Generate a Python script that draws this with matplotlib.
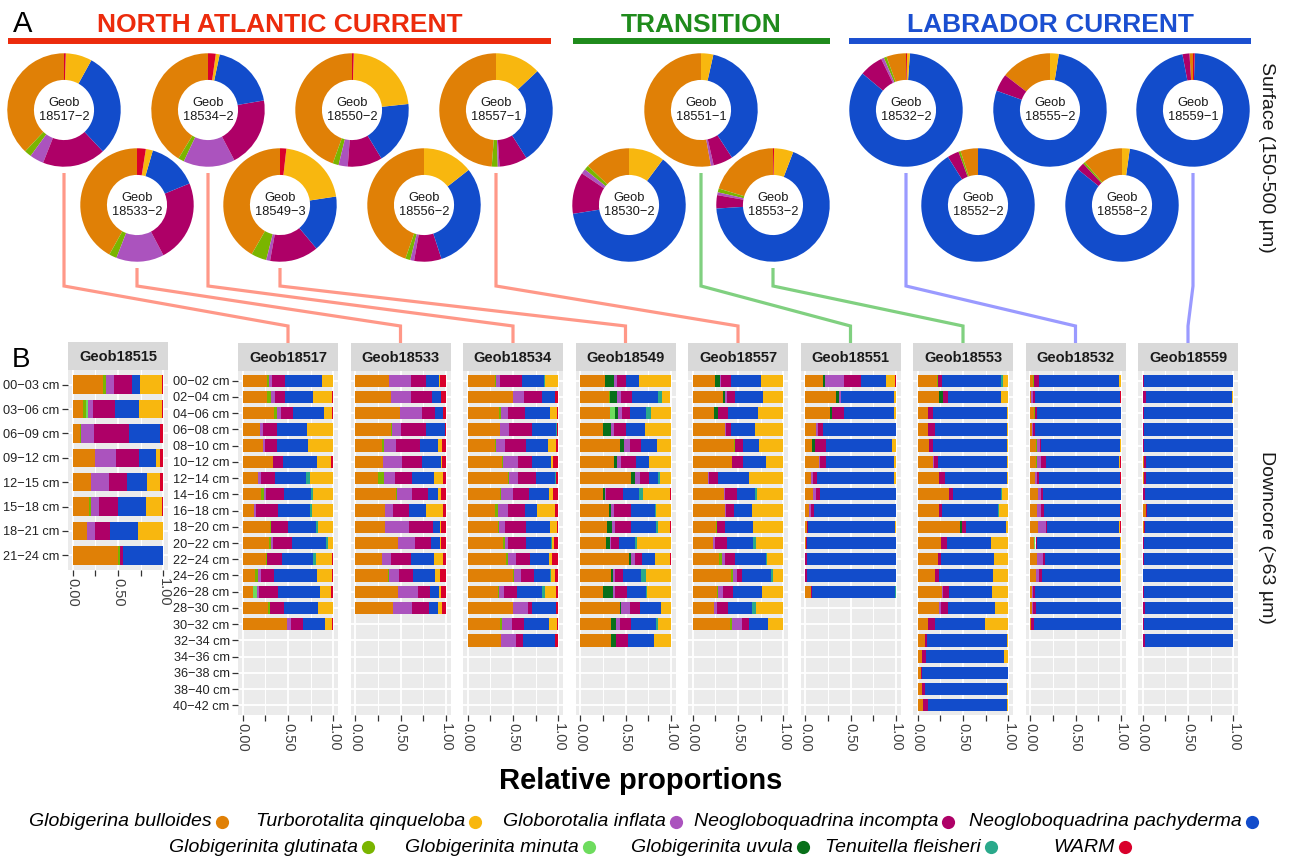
import numpy as np
import matplotlib
matplotlib.use("Agg")
import matplotlib.pyplot as plt

plt.rcParams["font.family"] = ["Liberation Sans", "DejaVu Sans"]

W, H, DPI = 1289, 858, 100

# ---------------------------------------------------------------- data
species = [
    "Globigerina bulloides", "Globigerinita glutinata", "Globigerinita minuta",
    "Globigerinita uvula", "Globorotalia inflata", "Neogloboquadrina incompta",
    "Neogloboquadrina pachyderma", "Tenuitella fleisheri",
    "Turborotalita qinqueloba", "WARM",
]
species_colors = [
    "#E08006", "#7AB500", "#6EDC5E", "#08701A", "#AB53BE",
    "#AE0067", "#124CCB", "#2AA98B", "#F8B70F", "#D9002B",
]

# Surface samples (150-500 um), % per species (order as `species`)
surface_stations = [
    "18517-2", "18534-2", "18550-2", "18557-1", "18533-2", "18549-3", "18556-2",
    "18551-1", "18530-2", "18553-2",
    "18532-2", "18555-2", "18559-1", "18552-2", "18558-2",
]
surface_pct = [
    [38.0, 2.0, 0, 0, 4.0, 18.0, 30.0, 0, 7.5, 0.5],
    [41.3, 1.7, 0, 0, 14.7, 20.0, 19.0, 0, 1.1, 2.2],
    [44.5, 1.7, 0, 0, 2.6, 9.9, 18.0, 0, 22.8, 0.5],
    [48.8, 1.7, 0, 0, 0.5, 8.0, 28.0, 0, 13.0, 0],
    [41.9, 2.2, 0, 0, 13.6, 23.5, 14.3, 0, 2.0, 2.5],
    [41.7, 4.4, 0, 0, 1.1, 13.9, 16.3, 0, 20.8, 1.8],
    [44.7, 1.4, 0, 0, 1.1, 7.8, 30.6, 0, 14.4, 0],
    [52.8, 0, 0, 0, 0.8, 5.6, 37.3, 0, 3.5, 0],
    [12.9, 1.3, 0, 0, 1.4, 11.9, 62.3, 0, 10.2, 0],
    [20.3, 1.1, 0, 0, 0.8, 3.8, 68.2, 0, 5.5, 0.3],
    [5.6, 0.8, 0, 0, 0.8, 6.7, 85.0, 0, 0.8, 0.3],
    [14.5, 0, 0, 0, 0, 5.0, 78.0, 0, 2.5, 0],
    [1.0, 0, 0, 0, 0, 2.0, 96.5, 0, 0, 0.5],
    [5.0, 0.6, 0, 0, 0, 3.3, 91.1, 0, 0, 0],
    [11.4, 0.6, 0, 0, 0, 2.2, 83.6, 0, 2.2, 0],
]

# Downcore samples (>63 um), one row per depth interval, % per species
geob18515 = [
    [33, 3.5, 0, 0, 9.5, 19, 9.5, 0, 24, 1.5],
    [11, 4, 1.5, 0, 6.5, 24, 26.5, 0, 24.5, 2],
    [8.5, 0.5, 0, 0, 15, 38, 34, 0, 0, 4],
    [24.5, 0.5, 0, 0, 23, 25, 18.5, 0, 4.5, 4],
    [20, 0.5, 0, 0, 19.5, 20, 22, 0, 14, 4],
    [18.5, 1.5, 0, 0, 9, 21, 30.5, 0, 17.5, 2],
    [16, 0, 0, 0, 9, 16.5, 30, 0, 28, 0.5],
    [50.5, 1.5, 0, 0, 0, 3.5, 43.5, 0, 0, 1],
]
geob18517 = [
    [27, 2.5, 0, 0, 3, 14.5, 40, 0, 13, 0],
    [26.5, 5, 0, 0, 4, 11, 30.5, 0, 21.5, 1.5],
    [34.5, 3.5, 0, 0, 4.5, 13.5, 33.5, 0, 8.5, 2],
    [19, 0, 0, 0, 3.5, 15.5, 33, 0, 29, 0],
    [22, 0, 0, 0, 2.5, 13, 34, 0, 28.5, 0],
    [33, 1, 0, 0, 0, 10.5, 37.5, 0, 15, 3],
    [17.5, 0, 0, 0, 3, 15.5, 34, 4.5, 24.5, 1],
    [20, 3.5, 0, 0, 2, 20, 30, 2, 22.5, 0],
    [13, 0, 0, 0, 2, 24, 35, 2.5, 23.5, 0],
    [30, 1.5, 0, 0, 0, 19, 30, 2, 17.5, 0],
    [29.5, 1.5, 0, 0, 3, 20, 38, 2, 6, 0],
    [25.5, 1.5, 0, 0, 0, 16, 35, 3, 17, 2],
    [14, 3, 0, 0, 3, 15, 46.5, 0, 17, 1.5],
    [11.5, 0, 4.5, 0, 2, 21.5, 45.5, 0, 12, 3],
    [28.5, 1.5, 0, 0, 0, 15.5, 37, 0, 16.5, 1],
    [49, 0, 0, 0, 4.5, 13.5, 23.5, 0, 7.5, 2],
]
geob18533 = [
    [37.5, 0, 0, 0, 24, 16.5, 14.5, 0, 1, 6.5],
    [39.5, 0, 0, 0, 21.5, 24, 9, 0, 1, 5],
    [49.5, 0, 0, 0, 24.5, 14, 9, 0, 0, 3],
    [39.5, 1, 0, 0, 10.5, 27.5, 20, 0, 0, 1.5],
    [29.5, 2.5, 0, 0, 13, 26.5, 20, 0, 4.5, 4],
    [30.5, 0.5, 0, 0, 21, 21.5, 21.5, 0, 1, 4],
    [25.5, 6, 0, 0, 12.5, 19, 24, 0, 9.5, 3.5],
    [45, 1, 0, 0, 16.5, 18, 11, 0, 2.5, 6],
    [33, 0, 0, 0, 9, 17, 19.5, 0, 18.5, 3],
    [33, 0, 0, 0, 26.5, 26.5, 7.5, 0, 1.5, 5],
    [47.5, 0, 0, 0, 18.5, 17.5, 10, 0, 1.5, 5],
    [29.5, 0, 0, 0, 10.5, 21.5, 25.5, 0, 10, 3],
    [36, 1, 0, 0, 11.5, 15.5, 24, 0, 5.5, 6.5],
    [47.5, 0, 0, 0, 21.5, 13.5, 10, 0, 1.5, 6],
    [42, 0, 0, 0, 20.5, 18.5, 10.5, 0, 4.5, 4],
]
geob18534 = [
    [30, 1, 0, 0, 5, 24, 24.5, 1, 13.5, 1],
    [50, 0, 0, 0, 12, 19.5, 15, 0, 0, 3.5],
    [35, 2, 0, 0, 7, 19, 27.5, 0, 7.5, 2],
    [36, 0, 0, 0, 10, 25, 26, 1.5, 0, 1.5],
    [30, 1, 0, 0, 10, 23.5, 24, 0, 8.5, 3],
    [37.5, 1, 0, 0, 17.5, 14.5, 21, 0, 3, 5.5],
    [44, 2, 0, 0, 9.5, 20, 21, 1, 0, 2.5],
    [35.5, 1, 0, 0, 13.5, 18, 22, 0, 4, 6],
    [30.5, 2.5, 0, 0, 11.5, 19, 13, 0, 20, 3.5],
    [33, 2, 0, 0, 6.5, 22.5, 26.5, 0, 7.5, 2],
    [39, 2, 0, 0, 3, 20, 27.5, 1, 3, 4.5],
    [42, 2, 0, 0, 9.5, 15.5, 21, 0, 2.5, 7.5],
    [49.5, 2, 0, 0, 7.5, 14.5, 17, 1, 5, 3.5],
    [33.5, 1, 0, 0, 5.5, 14.5, 27.5, 3.5, 11.5, 3],
    [49.5, 0, 0, 0, 17, 4, 26.5, 0, 0, 3],
    [36, 1.5, 0, 0, 11, 14, 27, 0, 9, 1.5],
    [36.5, 0, 0, 0, 17, 7, 35.5, 0.5, 0, 3.5],
]
geob18549 = [
    [27.5, 0, 0, 10, 3, 10.5, 13.5, 0, 35.5, 0],
    [31.5, 1, 0, 8.5, 4.5, 12, 28, 4.5, 9.5, 0.5],
    [33, 0, 5.5, 3, 4.5, 9, 18, 4.5, 22, 0.5],
    [25, 0, 0, 9.5, 2.5, 13.5, 20.5, 0, 29, 0],
    [44, 0, 0, 4.5, 6, 13, 17, 0, 15.5, 0],
    [37, 0, 0, 3.5, 5, 15.5, 15, 0, 24, 0],
    [56.5, 0, 0, 3.5, 6, 9.5, 10, 2.5, 12, 0],
    [25, 0, 0, 2, 2, 18.5, 17, 5, 29, 1.5],
    [31.5, 0, 0, 3, 2.5, 18.5, 26.5, 1.5, 16.5, 0],
    [29.5, 0, 0, 6, 3, 17, 28, 2.5, 13, 1],
    [29, 0, 0, 4, 1, 8.5, 18, 2, 37.5, 0],
    [53.5, 0, 0, 2, 4.5, 8, 14.5, 0, 16, 1.5],
    [34, 0, 0, 2, 2, 9, 20, 5.5, 27.5, 0],
    [25, 0, 0, 11, 2, 13.5, 21.5, 1, 26, 0],
    [43.5, 0, 0, 2, 9, 11.5, 22.5, 0, 11, 0.5],
    [33.5, 0, 0, 6.5, 4, 12, 28, 2, 14, 0],
    [34.5, 0, 0, 4.5, 1, 13, 28.5, 0, 18.5, 0],
]
geob18557 = [
    [24.5, 0, 0, 5.5, 1, 11, 33.5, 0, 23.5, 1],
    [33.5, 0, 0, 2, 2, 9, 31.5, 0, 22, 0],
    [24, 0, 0, 4.5, 0, 10.5, 32.5, 0, 28.5, 0],
    [35.5, 0, 0, 0, 1, 5.5, 27, 0, 30, 1],
    [46, 1, 0, 0, 0, 8, 18, 0, 27, 0],
    [43, 0, 0, 0, 0, 12.5, 25.5, 0, 19, 0],
    [16.5, 0, 0, 0, 1.5, 10.5, 33.5, 0, 37, 1],
    [35, 0, 0, 0, 0.5, 13, 20.5, 2, 29, 0],
    [36, 0, 0, 0, 1, 8.5, 20, 0, 34.5, 0],
    [25.5, 1.5, 0, 0, 0, 8.5, 31, 0, 33.5, 0],
    [23, 0, 0, 0, 2, 12.5, 29.5, 2.5, 29.5, 1],
    [29.5, 3, 0, 0, 3, 11.5, 33.5, 1, 18.5, 0],
    [42.5, 1.5, 0, 0, 4.5, 6, 32, 1.5, 12, 0],
    [27, 1.5, 0, 0, 4.5, 12, 31, 0, 23, 1],
    [23.5, 0, 0, 0, 3, 13, 26, 4, 29.5, 1],
    [41.5, 2, 0, 0, 10.5, 8, 21, 0, 16, 1],
]
geob18551 = [
    [20, 0, 0, 1.5, 21.5, 18, 27.5, 0, 10.5, 1],
    [34.5, 0, 0, 2.5, 2, 0, 59, 0, 2, 0],
    [27.5, 0, 0, 2.5, 0, 13, 55, 0, 2, 0],
    [11.5, 0, 0, 0, 2.5, 6, 80, 0, 0, 0],
    [8, 0, 0, 2.5, 0, 13, 72.5, 0, 4, 0],
    [15.5, 0, 0, 0, 1, 7, 74.5, 0, 2, 0],
    [6.5, 0, 0, 0, 2.5, 4, 85, 0, 2, 0],
    [8.5, 0, 0, 0, 4, 3.5, 84, 0, 0, 0],
    [4.5, 0, 0, 0, 2.5, 3, 90, 0, 0, 0],
    [2.5, 0, 0, 0, 0, 0.5, 96, 0, 1, 0],
    [1, 0, 0, 0, 0, 1, 98, 0, 0, 0],
    [0, 0, 0, 0, 0, 2.5, 97.5, 0, 0, 0],
    [0, 0, 0, 0, 0, 2, 98, 0, 0, 0],
    [6, 0, 0, 0, 0, 2, 91, 1, 0, 0],
]
geob18553 = [
    [21, 1, 0, 0, 0, 4.5, 65, 3, 5, 0.5],
    [24, 0, 0, 4.5, 0, 5, 58.5, 0, 8, 0],
    [11, 0, 0, 0, 1, 5, 81, 0, 2, 0],
    [11, 0, 0, 0, 0, 8, 79.5, 0, 1.5, 0],
    [13, 0, 0, 0, 0, 4.5, 81, 0, 1.5, 0],
    [17.5, 0, 0, 0, 1, 3.5, 76, 0, 2, 0],
    [24, 0, 0, 0, 0, 6, 68, 0, 2, 0],
    [35, 0, 0, 0, 0, 4.5, 52, 1.5, 6, 1],
    [24, 0, 0, 0, 0, 3, 62, 1, 10, 0],
    [46.5, 0, 0, 2, 0, 5, 44, 0, 2.5, 0],
    [26, 0, 0, 0, 0, 6, 48.5, 0, 19.5, 0],
    [22.5, 0, 0, 0, 0, 3, 59, 0, 15.5, 0],
    [19, 0, 0, 0, 0, 4.5, 59, 0, 17.5, 0],
    [26.5, 0, 0, 0, 1, 7.5, 47, 0, 18, 0],
    [24, 0, 0, 0, 1.5, 7.5, 52.5, 0, 14.5, 0],
    [11, 1, 0, 0, 0, 7.5, 54.5, 0, 25.5, 0.5],
    [8, 0, 0, 0, 0, 2, 88, 0, 2, 0],
    [5, 0, 0, 0, 0, 4.5, 85.5, 0, 5, 0],
    [3.5, 0, 0, 0, 0, 1.5, 95, 0, 0, 0],
    [5, 0, 0, 0, 0, 3, 90, 0, 2, 0],
    [5.5, 0, 0, 0, 0, 5.5, 87, 0, 2, 0],
]
geob18532 = [
    [3, 1, 0, 0, 0, 6, 88, 0, 2, 0],
    [1.5, 0, 0, 0, 1.5, 2.5, 93.5, 0, 0, 1],
    [4.5, 1, 0, 0, 0, 2.5, 92, 0, 0, 0],
    [2, 0, 0, 0, 1.5, 2, 94.5, 0, 0, 0],
    [6.5, 1.5, 0, 0, 2.5, 2, 86.5, 0, 1, 0],
    [6, 2, 0, 0, 3.5, 5.5, 81, 0, 1, 1],
    [5, 0, 0, 0, 2.5, 2.5, 88.5, 0, 0, 1.5],
    [8.5, 0, 0, 0, 3.5, 2, 85.5, 0, 0, 0.5],
    [7.5, 0, 0, 0, 5, 3, 83, 0, 0, 1.5],
    [8.5, 0, 0, 0, 8.5, 2, 78.5, 0, 1.5, 1],
    [4.5, 0, 1.5, 0, 0, 2, 90.5, 0, 1.5, 0],
    [7.5, 0, 0, 0, 6.5, 2.5, 82, 0, 1.5, 0],
    [6.5, 0, 0, 0, 3.5, 3.5, 85.5, 0, 1, 0],
    [2, 0, 0, 0, 1, 2.5, 94.5, 0, 0, 0],
    [2, 0, 0, 0, 1.5, 3.5, 93, 0, 0, 0],
    [1, 0, 0, 0, 0, 3, 96, 0, 0, 0],
]
geob18559 = [
    [0, 0, 0, 0, 0, 2, 98, 0, 0, 0],
    [0, 0, 0, 0, 1, 3, 94.5, 0, 1.5, 0],
    [0, 0, 0, 0, 0, 2, 98, 0, 0, 0],
    [0, 0, 0, 0, 0, 1.5, 98.5, 0, 0, 0],
    [0, 0, 0, 0, 0, 1.5, 98.5, 0, 0, 0],
    [2, 0, 0, 0, 0, 1.5, 96, 0, 0.5, 0],
    [2, 0, 0, 0, 0, 1.5, 96.5, 0, 0, 0],
    [1, 0, 0, 0, 0, 1.5, 97.5, 0, 0, 0],
    [3.5, 0, 0, 0, 0, 1, 95, 0, 0.5, 0],
    [2, 0, 0, 0, 0, 1, 97, 0, 0, 0],
    [1, 0, 0, 0, 0, 1, 97.5, 0, 0.5, 0],
    [0, 0, 0, 0, 0, 2, 98, 0, 0, 0],
    [0, 0, 0, 0, 0, 0.5, 99.5, 0, 0, 0],
    [1, 0, 0, 0, 0, 0.5, 98.5, 0, 0, 0],
    [1, 0, 0, 0, 0, 2, 97, 0, 0, 0],
    [0.5, 0, 0, 0, 0, 1.5, 98, 0, 0, 0],
    [0.5, 0, 0, 0, 0, 2, 97.5, 0, 0, 0],
]

depth_labels_2cm = [f"{d:02d}\u2212{d + 2:02d} cm" for d in range(0, 42, 2)]
depth_labels_3cm = [f"{d:02d}\u2212{d + 3:02d} cm" for d in range(0, 24, 3)]

main_cores = [
    ("Geob18517", geob18517), ("Geob18533", geob18533), ("Geob18534", geob18534),
    ("Geob18549", geob18549), ("Geob18557", geob18557), ("Geob18551", geob18551),
    ("Geob18553", geob18553), ("Geob18532", geob18532), ("Geob18559", geob18559),
]

# ---------------------------------------------------------------- layout
fig = plt.figure(figsize=(W / DPI, H / DPI), dpi=DPI)


def fig_box(x, y, w, h):
    """Pixel box (top-left origin) -> figure fraction rectangle."""
    return [x / W, 1 - (y + h) / H, w / W, h / H]


canvas = fig.add_axes([0, 0, 1, 1], zorder=0)
canvas.set_xlim(0, W)
canvas.set_ylim(H, 0)
canvas.axis("off")

TEXT_DARK = "#1A1A1A"
AXIS_TEXT = "#404040"

# panel letters
canvas.text(13, 32, "A", fontsize=21, va="baseline", ha="left", color="black")
canvas.text(12, 367, "B", fontsize=20, va="baseline", ha="left", color="black")

# current headers with underline bars
regions = [
    ("NORTH ATLANTIC CURRENT", "#EC2B0C", 8, 551),
    ("TRANSITION", "#1F8B1C", 573, 830),
    ("LABRADOR CURRENT", "#1B4FD0", 849, 1251),
]
for label, col, x0, x1 in regions:
    canvas.plot([x0, x1], [40.5, 40.5], color=col, lw=4.3, solid_capstyle="butt")
    canvas.text((x0 + x1) / 2, 32, label, color=col, fontsize=19,
                fontweight="bold", ha="center", va="baseline")

# side titles
canvas.text(1266, 157, "Surface (150-500 \u00b5m)", rotation=-90, fontsize=14,
            ha="center", va="center", color=TEXT_DARK)
canvas.text(1266, 537, "Downcore (>63 \u00b5m)", rotation=-90, fontsize=14,
            ha="center", va="center", color=TEXT_DARK)

# ---------------------------------------------------------------- donuts
R = 57
donut_centres = {
    "18517-2": (64, 110), "18534-2": (208, 110), "18550-2": (352, 110),
    "18557-1": (496, 110), "18533-2": (137, 205), "18549-3": (280, 205),
    "18556-2": (424, 205), "18551-1": (701, 110), "18530-2": (629, 205),
    "18553-2": (773, 205), "18532-2": (906, 110), "18555-2": (1050, 110),
    "18559-1": (1193, 110), "18552-2": (978, 205), "18558-2": (1122, 205),
}
for name, pct in zip(surface_stations, surface_pct):
    cx, cy = donut_centres[name]
    ax = fig.add_axes(fig_box(cx - R, cy - R, 2 * R, 2 * R), zorder=2)
    ax.pie(pct, colors=species_colors, startangle=90, counterclock=True,
           radius=1, wedgeprops=dict(width=0.47, linewidth=0))
    ax.set_xlim(-1.005, 1.005)
    ax.set_ylim(-1.005, 1.005)
    ax.set_aspect("equal")
    ax.axis("off")
    station_text = "Geob\n" + name.replace("-", "\u2212")
    ax.text(0, 0, station_text, ha="center", va="center", fontsize=9.3,
            linespacing=1.25, color=TEXT_DARK)

# ---------------------------------------------------------------- connectors
PANEL_X0, PANEL_STEP, PANEL_W = 238, 112.5, 100
links = [
    ("18517-2", 0, "#FF9888"), ("18533-2", 1, "#FF9888"),
    ("18534-2", 2, "#FF9888"), ("18549-3", 3, "#FF9888"),
    ("18557-1", 4, "#FF9888"), ("18551-1", 5, "#80D080"),
    ("18553-2", 6, "#80D080"), ("18532-2", 7, "#9A9AFF"),
    ("18559-1", 8, "#9A9AFF"),
]
for name, k, col in links:
    cx, cy = donut_centres[name]
    px = PANEL_X0 + PANEL_STEP * k + PANEL_W / 2
    canvas.plot([cx, cx, px, px], [cy + R + 6, 286, 326, 343], color=col,
                lw=2.3, solid_joinstyle="miter", solid_capstyle="butt")


# ---------------------------------------------------------------- panels
def draw_panel(x0, top, height, n_slots, title, table, labels, show_y):
    ax = fig.add_axes(fig_box(x0, top, PANEL_W, height), zorder=2)
    ax.set_facecolor("#EBEBEB")
    vals = np.asarray(table, dtype=float) / 100.0
    rows = np.arange(len(vals))
    left = np.zeros(len(vals))
    for j, col in enumerate(species_colors):
        ax.barh(rows, vals[:, j], left=left, height=0.76, color=col,
                linewidth=0, zorder=3)
        left += vals[:, j]
    ax.set_xlim(-0.05, 1.05)
    ax.set_ylim(n_slots - 0.4, -0.6)
    ax.set_xticks([0, 0.5, 1])
    ax.set_xticklabels(["0.00", "0.50", "1.00"])
    ax.set_xticks([0.25, 0.75], minor=True)
    ax.set_yticks(range(n_slots))
    ax.grid(which="major", color="white", lw=1.3, zorder=1)
    ax.grid(which="minor", axis="x", color="white", lw=0.7, zorder=1)
    ax.set_axisbelow(True)
    ax.tick_params(axis="x", which="both", length=4, width=0.9,
                   color="#333333", labelsize=10.5, labelcolor=AXIS_TEXT,
                   labelrotation=-90, pad=2)
    if show_y:
        ax.set_yticklabels(labels)
        ax.tick_params(axis="y", length=4, width=0.9, color="#333333",
                       labelsize=9.2, labelcolor="#222222", pad=2)
    else:
        ax.tick_params(axis="y", length=0, labelleft=False)
    for s in ax.spines.values():
        s.set_visible(False)

    strip = fig.add_axes(fig_box(x0, top - 28, PANEL_W, 28), zorder=2)
    strip.set_facecolor("#D9D9D9")
    strip.set_xticks([])
    strip.set_yticks([])
    for s in strip.spines.values():
        s.set_visible(False)
    strip.text(0.5, 0.47, title, ha="center", va="center", fontsize=10.5,
               fontweight="bold", color=TEXT_DARK, transform=strip.transAxes)


draw_panel(68, 370, 200, len(depth_labels_3cm), "Geob18515", geob18515,
           depth_labels_3cm, True)
for k, (title, table) in enumerate(main_cores):
    draw_panel(PANEL_X0 + PANEL_STEP * k, 371, 344, len(depth_labels_2cm),
               title, table, depth_labels_2cm, k == 0)

canvas.text(641, 789, "Relative proportions", fontsize=21, fontweight="bold",
            ha="center", va="baseline", color="black")

# ---------------------------------------------------------------- legend
legend_rows = [
    (822, [0, 8, 4, 5, 6], [222, 475, 676, 948, 1252]),
    (847, [1, 2, 3, 7, 9], [368, 589, 803, 991, 1125]),
]
for y, idx, xs in legend_rows:
    for i, x in zip(idx, xs):
        canvas.plot([x], [y], marker="o", ms=9.5, color=species_colors[i],
                    markeredgewidth=0, linestyle="none")
        canvas.text(x - 10, y, species[i], fontsize=14, style="italic",
                    ha="right", va="center", color="black")

fig.savefig("out.png", dpi=DPI)
